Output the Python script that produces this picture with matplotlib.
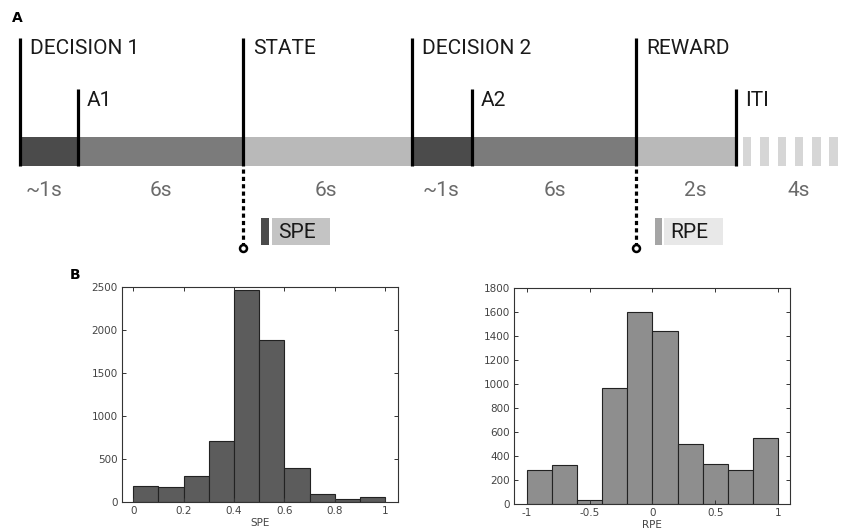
import matplotlib
matplotlib.use("Agg")
import matplotlib.pyplot as plt
from matplotlib.patches import Rectangle

plt.rcParams["axes.unicode_minus"] = False

# panel A: task timeline
event_labels = ["DECISION 1", "STATE", "DECISION 2", "REWARD"]
sub_labels = ["A1", "A2", "ITI"]
duration_labels = ["~1s", "6s", "6s", "~1s", "6s", "2s", "4s"]
segment_colors = ["#4b4b4b", "#7b7b7b", "#b9b9b9", "#4b4b4b", "#7b7b7b", "#b9b9b9"]

# panel B: histograms
spe_edges = [0.0, 0.1, 0.2, 0.3, 0.4, 0.5, 0.6, 0.7, 0.8, 0.9, 1.0]
spe_counts = [182, 172, 298, 713, 2470, 1880, 395, 97, 39, 54]
rpe_edges = [-1.0, -0.8, -0.6, -0.4, -0.2, 0.0, 0.2, 0.4, 0.6, 0.8, 1.0]
rpe_counts = [286, 328, 31, 964, 1602, 1444, 497, 333, 286, 553]

fig = plt.figure(figsize=(8.41, 5.31), dpi=100)

# timeline drawn in pixel space of the figure
axA = fig.add_axes([0, 0, 1, 1])
axA.set_xlim(0, 841)
axA.set_ylim(531, 0)
axA.axis("off")

bounds = [20, 78, 243, 412, 472, 636, 736]
event_x = [20, 243, 412, 636]
sub_x = [78, 472, 736]
bar_top, bar_bot = 137, 166
font = "Roboto"

for i, c in enumerate(segment_colors):
    axA.add_patch(Rectangle((bounds[i], bar_top), bounds[i + 1] - bounds[i],
                            bar_bot - bar_top, color=c, lw=0))
# ITI dashes
for k in range(6):
    axA.add_patch(Rectangle((743 + k * 17.3, bar_top), 8.5, bar_bot - bar_top,
                            color="#d6d6d6", lw=0))

for x, lab in zip(event_x, event_labels):
    axA.plot([x, x], [38, bar_bot], color="black", lw=2.3, solid_capstyle="butt")
    axA.text(x + 10, 48, lab, fontsize=15, family=font, va="center", ha="left",
             color="#1a1a1a")
for x, lab in zip(sub_x, sub_labels):
    axA.plot([x, x], [89, bar_bot], color="black", lw=2.3, solid_capstyle="butt")
    axA.text(x + 9, 100, lab, fontsize=15, family=font, va="center", ha="left",
             color="#1a1a1a")

dur_x = [44, 161, 326, 441, 555, 695, 799]
for x, lab in zip(dur_x, duration_labels):
    axA.text(x, 191, lab, fontsize=15, family=font,
             va="center", ha="center", color="#6a6a6a")

# dashed markers down to the prediction-error boxes
for x in [243, 636]:
    axA.plot([x, x], [bar_bot + 3, 245], color="black", lw=2.3,
             linestyle=(0, (1.3, 1.0)))
    axA.plot(x, 248, marker="o", ms=5, mfc="white", mec="black", mew=1.8)

axA.add_patch(Rectangle((261, 218), 8, 27, color="#4b4b4b", lw=0))
axA.add_patch(Rectangle((272, 218), 58, 27, color="#c4c4c4", lw=0))
axA.text(278, 232, "SPE", fontsize=15, family=font, va="center", ha="left",
         color="#1a1a1a")
axA.add_patch(Rectangle((655, 218), 7, 27, color="#a5a5a5", lw=0))
axA.add_patch(Rectangle((664, 218), 59, 27, color="#e8e8e8", lw=0))
axA.text(670, 232, "RPE", fontsize=15, family=font, va="center", ha="left",
         color="#1a1a1a")

axA.text(12, 18, "A", fontsize=10, fontweight="bold", va="center", ha="left")
axA.text(70, 275, "B", fontsize=10, fontweight="bold", va="center", ha="left")


def style(ax):
    for s in ax.spines.values():
        s.set_color("#333333")
        s.set_linewidth(0.8)
    ax.tick_params(direction="in", top=True, right=True, length=3, width=0.7,
                   labelsize=7.5, labelcolor="#444444", color="#333333", pad=3)


axL = fig.add_axes([0.145, 0.0546, 0.3278, 0.405])
axL.bar(spe_edges[:-1], spe_counts, width=0.1, align="edge",
        color="#5c5c5c", edgecolor="#222222", linewidth=0.8)
axL.set_xlim(-0.045, 1.05)
axL.set_ylim(0, 2500)
axL.set_xticks([0, 0.2, 0.4, 0.6, 0.8, 1])
axL.set_xticklabels(["0", "0.2", "0.4", "0.6", "0.8", "1"])
axL.set_yticks(range(0, 2501, 500))
axL.set_xlabel("SPE", fontsize=7.5, color="#444444", labelpad=1)
style(axL)

axR = fig.add_axes([0.6112, 0.0508, 0.3282, 0.4068])
axR.bar(rpe_edges[:-1], rpe_counts, width=0.2, align="edge",
        color="#8e8e8e", edgecolor="#222222", linewidth=0.8)
axR.set_xlim(-1.1, 1.093)
axR.set_ylim(0, 1800)
axR.set_xticks([-1, -0.5, 0, 0.5, 1])
axR.set_xticklabels(["-1", "-0.5", "0", "0.5", "1"])
axR.set_yticks(range(0, 1801, 200))
axR.set_xlabel("RPE", fontsize=7.5, color="#444444", labelpad=1)
style(axR)

fig.savefig("out.png", dpi=100)
